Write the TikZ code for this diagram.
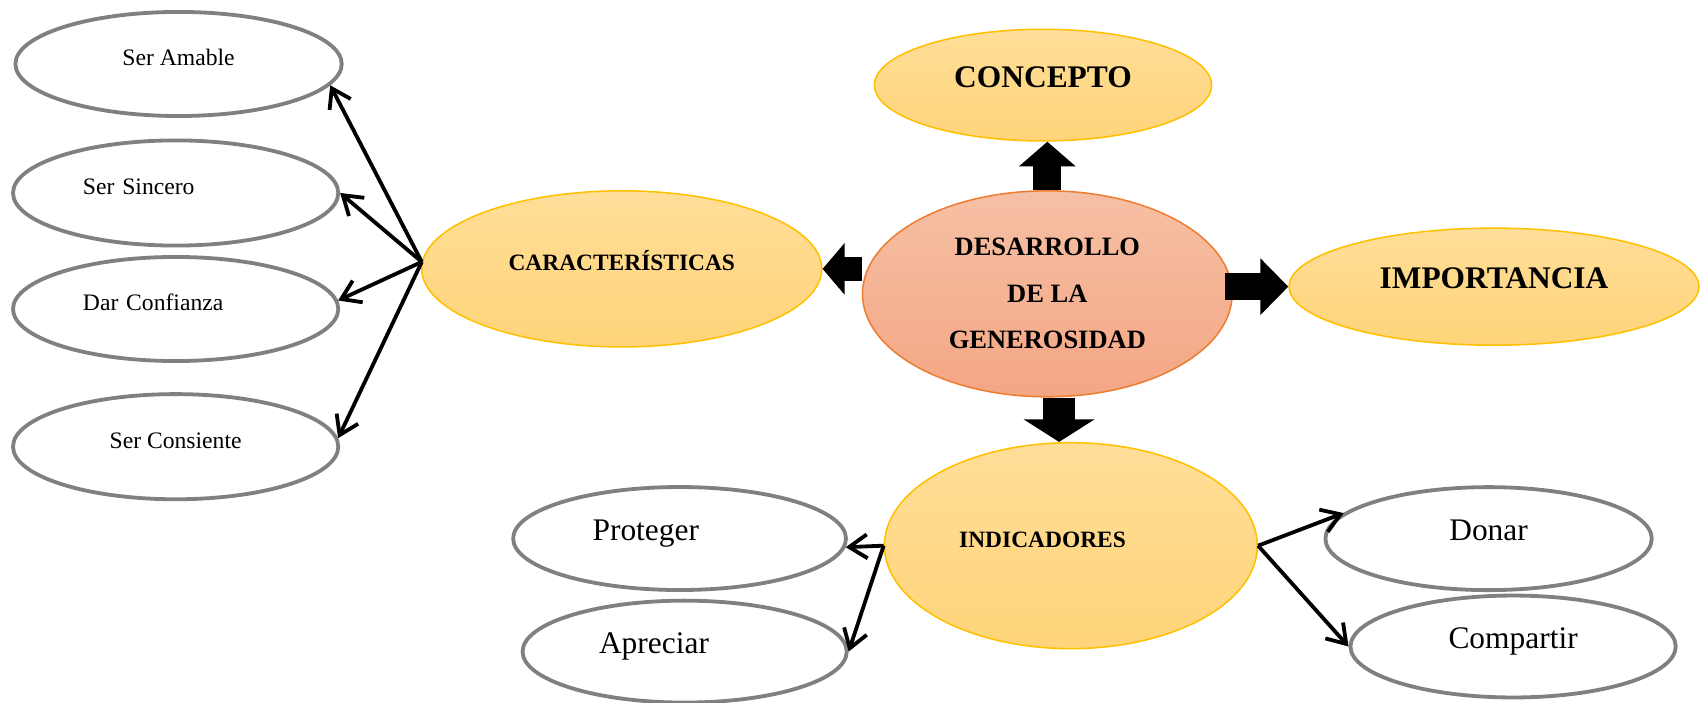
\documentclass[tikz,border=0pt]{standalone}
\usepackage{fontspec}
\setmainfont{Liberation Serif}
\usetikzlibrary{arrows.meta,calc,shapes.geometric}
\definecolor{ovalgray}{RGB}{128,128,128}
\definecolor{goldtop}{RGB}{255,222,152}
\definecolor{goldbot}{RGB}{255,212,122}
\definecolor{goldline}{RGB}{255,192,0}
\definecolor{salmtop}{RGB}{246,192,165}
\definecolor{salmbot}{RGB}{244,166,132}
\definecolor{salmline}{RGB}{237,125,49}
\begin{document}
\begin{tikzpicture}[x=0.02cm,y=-0.02cm,
  oval/.style 2 args={ellipse,inner sep=0pt,minimum width=#1*0.02cm,minimum height=#2*0.02cm},
  wht/.style={draw=ovalgray,line width=2pt,fill=white,font=\fontsize{12.4pt}{15pt}\selectfont,text height=8.7pt,text depth=6.8pt},
  big/.style={font=\fontsize{16.5pt}{20pt}\selectfont,text height=11.5pt,text depth=9.1pt},
  bigb/.style={big,font=\fontsize{16.5pt}{20pt}\selectfont\bfseries},
  gold/.style={draw=goldline,line width=0.8pt,top color=goldtop,bottom color=goldbot,font=\fontsize{12.3pt}{15pt}\selectfont\bfseries,text height=8.6pt,text depth=6.8pt},
  salm/.style={draw=salmline,line width=0.8pt,top color=salmtop,bottom color=salmbot,font=\fontsize{13.9pt}{24.4pt}\selectfont\bfseries,align=center},
  lnk/.style={line width=2pt,-{Straight Barb[length=9.5pt,width=12.5pt]}},
  blk/.style n args={3}{line width=#1,-{Triangle[length=#2,width=#3]}}]
\useasboundingbox (0,0) rectangle (1568,647.5);
\node[oval={301}{96},wht] (sa) at (164.7,59) {Ser Amable};
\node[oval={300}{97},wht,text width=3.42cm,align=left] (ss) at (162,178) {Ser Sincero};
\node[oval={300}{96},wht,text width=3.42cm,align=left] (dc) at (162,285) {Dar Confianza};
\node[oval={300}{97},wht] (sc) at (162,412) {Ser Consiente};
\node[oval={369}{144},gold] (car) at (573.5,248) {CARACTERÍSTICAS};
\node[oval={311}{103},gold,bigb] (con) at (962,78.5) {CONCEPTO};
\node[oval={341}{190},salm] (des) at (966,271) {DESARROLLO\\DE LA\\GENEROSIDAD};
\node[oval={378}{108},gold,bigb] (imp) at (1378,264.4) {IMPORTANCIA};
\node[oval={344}{190},gold,text width=4.12cm,align=left] (ind) at (987.7,503.3) {INDICADORES};
\node[oval={307}{95},wht,big,text width=3.21cm,align=left] (pro) at (626.8,496.7) {Proteger};
\node[oval={299}{94},wht,big,text width=3.16cm,align=left] (apr) at (631.5,601) {Apreciar};
\node[oval={301}{95},wht,big] (don) at (1373,496.8) {Donar};
\node[oval={300}{94},wht,big] (com) at (1395.6,596.3) {Compartir};
\draw[lnk] (car.178) -- (sa.-8);
\draw[lnk] (car.178) -- (ss.east);
\draw[lnk] (car.178) -- (dc.3);
\draw[lnk] (car.178) -- (sc.3);
\draw[lnk] (ind.west) -- (pro.-3);
\draw[lnk] (ind.west) -- (apr.east);
\draw[lnk] (ind.east) -- (don.170);
\draw[lnk] (ind.east) -- (com.west);
\coordinate (dn) at ($(des.south)!.5!(ind.north)$);
\draw[blk={14.7pt}{13pt}{29.2pt}] (des.north) -- (des.north |- con.south);
\draw[blk={13pt}{11.6pt}{26.6pt}] (car.east -| des.west) -- (car.east);
\draw[blk={14.2pt}{14.7pt}{28.9pt},shorten <=-0.14cm] (des.east |- imp.west) -- (imp.west);
\draw[blk={17pt}{11.9pt}{36.9pt}] (des.south -| dn) -- (ind.north -| dn);
\end{tikzpicture}
\end{document}
